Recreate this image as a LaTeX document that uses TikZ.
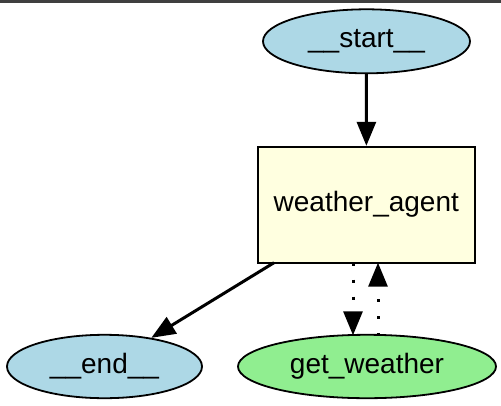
\documentclass[tikz,border=0pt]{standalone}
\usepackage{fontspec}
\setmainfont{Liberation Sans}
\usetikzlibrary{shapes.geometric,arrows.meta}
\definecolor{lblue}{HTML}{ADD8E6}
\definecolor{lyellow}{HTML}{FFFFE0}
\definecolor{lgreen}{HTML}{90EE90}
\definecolor{topband}{HTML}{3F3F3F}
\begin{document}
\begin{tikzpicture}[x=1pt,y=-1pt,
  lbl/.style={font=\fontsize{28}{30}\selectfont},
  oval/.style={ellipse,draw=black,line width=1.8pt,inner sep=0pt,lbl},
  boxnode/.style={rectangle,draw=black,line width=1.8pt,fill=lyellow,inner sep=0pt,lbl,minimum width=217pt,minimum height=116pt},
  edge/.style={line width=3pt,-{Triangle[length=24pt,width=19pt]}},
  dotedge/.style={line width=3pt,dash pattern=on 3pt off 14pt,-{Triangle[length=24pt,width=19pt]}}
]
\useasboundingbox (0,0) rectangle (501,405);
\fill[white] (0,0) rectangle (501,405);
\fill[topband] (0,0) rectangle (501,2.6);
\node[oval,fill=lblue,minimum width=207pt,minimum height=64pt] (start) at (366.5,41.3) {\_\_start\_\_};
\node[boxnode] (agent) at (366.3,204.7) {weather\_agent};
\node[oval,fill=lblue,minimum width=195pt,minimum height=63.4pt] (end) at (104.5,366.5) {\_\_end\_\_};
\node[oval,fill=lgreen,minimum width=258pt,minimum height=63.4pt] (get) at (367,366.5) {get\_weather};
\coordinate (a1) at (274,262.7);
\coordinate (a2) at (353,262.7);
\coordinate (g2) at (353,335.3);
\coordinate (a3) at (378,262.7);
\coordinate (g3) at (378,335.5);
\draw[edge] (start) -- (agent);
\draw[edge] (a1) -- (end);
\draw[dotedge] (a2) -- (g2);
\draw[dotedge] (g3) -- (a3);
\end{tikzpicture}
\end{document}
